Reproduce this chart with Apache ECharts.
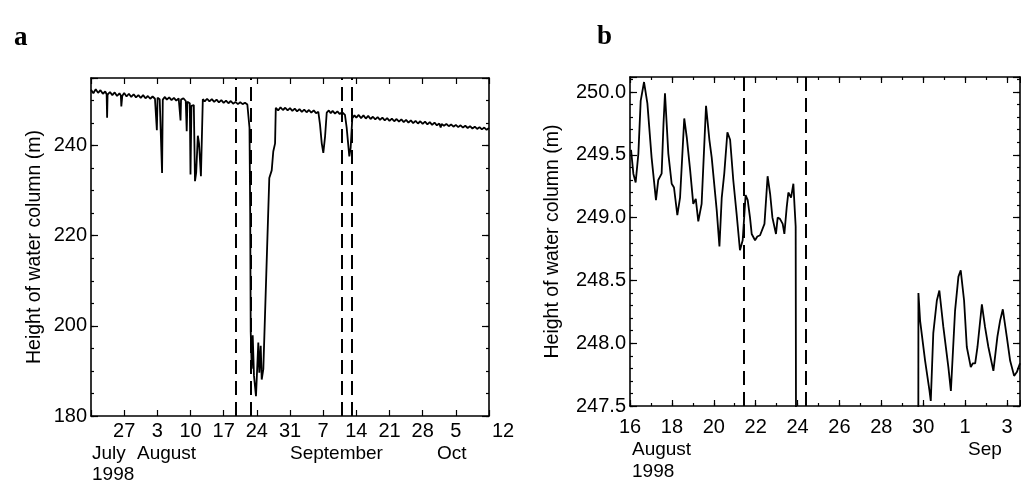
<!DOCTYPE html>
<html><head><meta charset="utf-8">
<script src="https://cdn.jsdelivr.net/npm/echarts@6/dist/echarts.min.js"></script>
<style>html,body{margin:0;padding:0;background:#fff}#c{width:1021px;height:484px}</style>
</head><body><div id="c"></div>
<script>
// ---------- Panel a: x = day counted from 1 July 1998 (1 Aug = 32, 1 Sep = 63, 1 Oct = 93) ----------
const A_SERIES = [
[20.0,252.4],[20.5,251.6],[21.0,252.5],[21.5,251.7],[22.0,252.3],[22.5,251.5],[23.0,252.0],[23.3,251.4],[23.4,246.2],[23.5,251.3],
[24.0,251.9],[24.5,251.2],[25.0,251.8],[25.5,251.0],[26.0,251.6],[26.3,251.1],[26.4,248.7],[26.6,251.0],[27.0,251.7],[27.5,250.9],
[28.0,251.5],[28.5,250.8],[29.0,251.4],[29.5,250.7],[30.0,251.2],[30.5,250.6],[31.0,251.2],[31.5,250.5],[32.0,251.0],[32.5,250.4],
[33.0,250.9],[33.5,250.4],[33.8,250.7],[33.9,243.4],[34.05,250.6],[34.5,250.3],[34.85,250.5],[35.0,233.9],[35.15,250.2],[35.6,250.8],
[36.0,250.2],[36.5,250.7],[37.0,250.1],[37.5,250.6],[38.0,250.0],[38.5,250.5],[38.8,250.1],[38.9,245.6],[39.0,250.2],[39.5,250.5],
[40.0,249.9],[40.2,243.2],[40.35,249.7],[40.85,249.4],[41.0,233.6],[41.2,248.8],[41.7,249.0],[41.95,232.1],[42.2,234.0],[42.55,242.2],
[42.8,240.5],[43.2,233.2],[43.6,250.3],[44.0,249.8],[44.5,250.4],[45.0,249.8],[45.5,250.3],[46.0,249.7],[46.5,250.2],[47.0,249.6],
[47.5,250.1],[48.0,249.5],[48.5,250.0],[49.0,249.4],[49.5,249.9],[50.0,249.3],[50.5,249.7],[51.0,249.2],[51.5,249.6],[52.0,249.2],
[52.5,249.5],[53.0,249.1],[53.2,249.3],[53.45,244.0],[53.6,225.0],[53.71,198.7],[53.92,190.5],[54.13,197.9],[54.4,188.9],[54.82,184.4],
[55.31,196.3],[55.52,189.6],[55.82,195.6],[56.03,188.1],[56.37,190.4],[57.0,211.6],[57.63,232.8],[58.14,234.5],[58.47,238.7],[58.85,240.5],
[59.0,248.4],[59.5,247.8],[60.0,248.5],[60.5,247.9],[61.0,248.4],[61.5,247.8],[62.0,248.3],[62.5,247.7],[63.0,248.2],[63.5,247.6],
[64.0,248.1],[64.5,247.5],[65.0,248.0],[65.5,247.4],[66.0,247.9],[66.5,247.3],[67.0,247.8],[67.5,247.2],[67.98,247.5],[68.33,244.7],
[68.7,240.5],[69.03,238.4],[69.4,242.0],[69.75,247.3],[70.2,247.8],[70.6,247.2],[71.0,247.7],[71.5,247.1],[72.0,247.6],[72.5,247.0],
[73.0,247.4],[73.6,246.8],[73.96,244.0],[74.52,237.6],[74.8,239.5],[75.15,246.1],[75.6,246.7],[76.0,246.2],[76.5,246.8],[77.0,246.1],
[77.5,246.7],[78.0,246.0],[78.5,246.6],[79.0,245.9],[79.5,246.4],[80.0,245.8],[80.5,246.3],[81.0,245.7],[81.5,246.2],[82.0,245.6],
[82.5,246.1],[83.0,245.5],[83.5,246.0],[84.0,245.4],[84.5,245.9],[85.0,245.3],[85.5,245.8],[86.0,245.2],[86.5,245.7],[87.0,245.1],
[87.5,245.6],[88.0,245.0],[88.5,245.5],[89.0,244.9],[89.5,245.4],[90.0,244.8],[90.5,245.3],[91.0,244.7],[91.5,245.2],[92.0,244.6],
[92.5,245.1],[93.0,244.5],[93.5,244.9],[93.8,244.0],[94.0,244.8],[94.5,244.4],[95.0,244.8],[95.5,244.3],[96.0,244.7],[96.5,244.2],
[97.0,244.6],[97.5,244.1],[98.0,244.5],[98.5,244.0],[99.0,244.4],[99.5,243.9],[100.0,244.3],[100.5,243.8],[101.0,244.2],[101.5,243.7],
[102.0,244.1],[102.5,243.6],[103.0,244.0],[103.5,243.5],[104.0,243.9]
];
const A_DASHED = [50.6, 53.66, 72.9, 75.0];
const A_DAY_MIN = 20, A_DAY_MAX = 104, A_TICK_STEP = 7;
const A_XTICK_LABELS = ['', '27', '3', '10', '17', '24', '31', '7', '14', '21', '28', '5', '12'];
const A_Y_MIN = 180, A_Y_MAX = 255, A_Y_STEP = 20, A_Y_MINOR = 5;
const A_MONTHS = ['July', 'August', 'September', 'Oct'];

// ---------- Panel b: x = day of August 1998 (1 Sep = 32) ----------
const B_SEG1 = [
[16.05,249.54],[16.16,249.35],[16.27,249.28],[16.4,249.51],[16.51,249.93],[16.67,250.08],[16.83,249.91],[17.03,249.48],[17.24,249.14],[17.35,249.30],
[17.51,249.35],[17.6,249.75],[17.67,249.99],[17.83,249.51],[17.99,249.27],[18.1,249.24],[18.26,249.02],[18.39,249.16],[18.59,249.79],[18.71,249.64],
[18.87,249.38],[19.02,249.11],[19.14,249.15],[19.26,248.97],[19.42,249.11],[19.63,249.89],[19.79,249.62],[19.9,249.48],[20.14,249.06],[20.27,248.77],
[20.38,249.16],[20.5,249.35],[20.65,249.68],[20.78,249.62],[20.93,249.30],[21.09,249.03],[21.25,248.74],[21.38,248.82],[21.52,249.18],[21.62,249.14],
[21.73,249.0],[21.81,248.87],[21.97,248.82],[22.08,248.85],[22.21,248.86],[22.42,248.95],[22.57,249.33],[22.69,249.19],[22.8,249.0],[22.97,248.87],
[23.05,249.0],[23.16,248.99],[23.29,248.95],[23.37,248.87],[23.48,249.08],[23.56,249.2],[23.69,249.16],[23.8,249.27],[23.85,249.11],[23.91,248.93],
[23.94,246.0]
];
const B_SEG2 = [
[29.76,246.0],[29.77,248.40],[29.85,248.18],[30.09,247.86],[30.3,247.62],[30.36,247.54],[30.48,248.08],[30.65,248.34],[30.77,248.42],[30.96,248.13],
[31.2,247.81],[31.32,247.62],[31.52,248.26],[31.68,248.53],[31.79,248.58],[31.95,248.34],[32.08,247.97],[32.27,247.81],[32.37,247.84],[32.48,247.84],
[32.59,247.97],[32.8,248.31],[32.95,248.13],[33.11,247.97],[33.35,247.78],[33.54,248.05],[33.67,248.18],[33.8,248.27],[33.99,248.05],[34.15,247.86],
[34.34,247.74],[34.47,247.77],[34.62,247.84]
];
const B_DASHED = [21.41, 24.39];
const B_DAY_MIN = 16, B_DAY_MAX = 34.62, B_TICK_STEP = 2;
const B_XTICK_LABELS = ['16', '18', '20', '22', '24', '26', '28', '30', '1', '3'];
const B_Y_MIN = 247.5, B_Y_MAX = 250.12, B_Y_STEP = 0.5, B_Y_MINOR = 0.1;
const B_MONTHS = ['August', 'Sep'];
const YEAR = '1998';
const Y_TITLE = 'Height of water column (m)';

// axis values for panel a are counted from 6 July so weekly ticks fall on multiples of 7
const A_SHIFT = 6;

const FONT = '"Liberation Sans", Arial, Helvetica, sans-serif';
const INK = '#000';
const TICK_FS = 20;
const LBL = {fontSize: TICK_FS, fontFamily: FONT, color: INK};

function ax(base, extra) { return Object.assign({type: 'value', splitLine: {show: false}, animation: false}, base, extra); }
function tickCfg(len) { return {show: true, inside: true, length: len, lineStyle: {color: INK, width: 1.2}}; }
const LINE = {show: true, lineStyle: {color: INK, width: 1.6}};
const NOLINE = {show: false};
const NOLBL = {show: false};

const aXmin = A_DAY_MIN - A_SHIFT, aXmax = A_DAY_MAX - A_SHIFT;

const xAxis = [
  // panel a
  ax({gridIndex: 0, position: 'bottom', min: aXmin, max: aXmax, interval: A_TICK_STEP}, {
    axisLine: LINE, axisTick: tickCfg(6),
    axisLabel: Object.assign({}, LBL, {margin: 5, showMinLabel: true, showMaxLabel: true,
      formatter: v => {
        const i = Math.round((v - aXmin) / A_TICK_STEP);
        if (Math.abs(v - aXmin - i * A_TICK_STEP) > 1e-6) return '';
        const t = A_XTICK_LABELS[i] || '';
        return i === A_XTICK_LABELS.length - 1 ? '{last|' + t + '}' : t;
      },
      rich: {last: {fontSize: TICK_FS, fontFamily: FONT, color: INK, padding: [0, 0, 0, 28]}}
    })
  }),
  ax({gridIndex: 0, position: 'top', min: aXmin, max: aXmax, interval: A_TICK_STEP}, {axisLine: LINE, axisTick: tickCfg(6), axisLabel: NOLBL}),
  // panel b
  ax({gridIndex: 1, position: 'bottom', min: B_DAY_MIN, max: B_DAY_MAX, interval: B_TICK_STEP}, {
    axisLine: LINE, axisTick: tickCfg(6),
    axisLabel: Object.assign({}, LBL, {margin: 11, showMaxLabel: true,
      formatter: v => {
        const i = Math.round((v - B_DAY_MIN) / B_TICK_STEP);
        if (Math.abs(v - B_DAY_MIN - i * B_TICK_STEP) > 1e-6) return '';
        return B_XTICK_LABELS[i] || '';
      }})
  }),
  ax({gridIndex: 1, position: 'bottom', min: B_DAY_MIN, max: B_DAY_MAX, interval: 1}, {axisLine: NOLINE, axisTick: tickCfg(3), axisLabel: NOLBL}),
  ax({gridIndex: 1, position: 'top', min: B_DAY_MIN, max: B_DAY_MAX, interval: B_TICK_STEP}, {axisLine: LINE, axisTick: tickCfg(6), axisLabel: NOLBL}),
  ax({gridIndex: 1, position: 'top', min: B_DAY_MIN, max: B_DAY_MAX, interval: 1}, {axisLine: NOLINE, axisTick: tickCfg(3), axisLabel: NOLBL})
];

const yAxis = [
  // panel a
  ax({gridIndex: 0, position: 'left', min: A_Y_MIN, max: A_Y_MAX, interval: A_Y_STEP}, {
    axisLine: LINE, axisTick: tickCfg(7),
    axisLabel: Object.assign({}, LBL, {margin: 4, formatter: v => (Math.abs(v % A_Y_STEP) < 1e-6 ? String(v) : '')}),
    name: Y_TITLE, nameLocation: 'middle', nameGap: 46, nameRotate: 90,
    nameTextStyle: {fontSize: 19.5, fontFamily: FONT, color: INK}
  }),
  ax({gridIndex: 0, position: 'left', min: A_Y_MIN, max: A_Y_MAX, interval: A_Y_MINOR}, {axisLine: NOLINE, axisTick: tickCfg(3), axisLabel: NOLBL}),
  ax({gridIndex: 0, position: 'right', min: A_Y_MIN, max: A_Y_MAX, interval: A_Y_STEP}, {axisLine: LINE, axisTick: tickCfg(7), axisLabel: NOLBL}),
  ax({gridIndex: 0, position: 'right', min: A_Y_MIN, max: A_Y_MAX, interval: A_Y_MINOR}, {axisLine: NOLINE, axisTick: tickCfg(3), axisLabel: NOLBL}),
  // panel b
  ax({gridIndex: 1, position: 'left', min: B_Y_MIN, max: B_Y_MAX, interval: B_Y_STEP}, {
    axisLine: LINE, axisTick: tickCfg(7),
    axisLabel: Object.assign({}, LBL, {margin: 4, formatter: v => {
      const k = (v - B_Y_MIN) / B_Y_STEP;
      return Math.abs(k - Math.round(k)) < 1e-6 ? v.toFixed(1) : '';
    }}),
    name: Y_TITLE, nameLocation: 'middle', nameGap: 67, nameRotate: 90,
    nameTextStyle: {fontSize: 19.5, fontFamily: FONT, color: INK, padding: [0, 0, 0, 0]}
  }),
  ax({gridIndex: 1, position: 'left', min: B_Y_MIN, max: B_Y_MAX, interval: B_Y_MINOR}, {axisLine: NOLINE, axisTick: tickCfg(3), axisLabel: NOLBL}),
  ax({gridIndex: 1, position: 'right', min: B_Y_MIN, max: B_Y_MAX, interval: B_Y_STEP}, {axisLine: LINE, axisTick: tickCfg(7), axisLabel: NOLBL}),
  ax({gridIndex: 1, position: 'right', min: B_Y_MIN, max: B_Y_MAX, interval: B_Y_MINOR}, {axisLine: NOLINE, axisTick: tickCfg(3), axisLabel: NOLBL})
];

function dashed(xs, shift) {
  return {
    silent: true, symbol: ['none', 'none'], label: {show: false}, animation: false,
    lineStyle: {type: [14, 7], width: 2, color: INK},
    emphasis: {disabled: true},
    data: xs.map(d => ({xAxis: d - shift}))
  };
}

const lineStyle = {color: INK, width: 1.8};
const series = [
  {type: 'line', xAxisIndex: 0, yAxisIndex: 0, data: A_SERIES.map(p => [p[0] - A_SHIFT, p[1]]),
   showSymbol: false, symbol: 'none', lineStyle: lineStyle, clip: true, animation: false, silent: true,
   markLine: dashed(A_DASHED, A_SHIFT)},
  {type: 'line', xAxisIndex: 2, yAxisIndex: 4, data: B_SEG1, showSymbol: false, symbol: 'none',
   lineStyle: lineStyle, clip: true, animation: false, silent: true, markLine: dashed(B_DASHED, 0)},
  {type: 'line', xAxisIndex: 2, yAxisIndex: 4, data: B_SEG2, showSymbol: false, symbol: 'none',
   lineStyle: lineStyle, clip: true, animation: false, silent: true}
];

const TXT_FONT = '19px ' + FONT;
const LETTER_FONT = 'bold 27px "Liberation Serif", "DejaVu Serif", serif';
function txt(s, x, y, font) {
  return {type: 'text', x: x, y: y, silent: true, style: {text: s, fill: INK, font: font || TXT_FONT, textVerticalAlign: 'middle'}};
}
const graphic = [
  txt('a', 14, 38, LETTER_FONT),
  txt('b', 597, 37, LETTER_FONT),
  txt(A_MONTHS[0], 92, 454),
  txt(A_MONTHS[1], 137, 454),
  txt(A_MONTHS[2], 290, 454),
  txt(A_MONTHS[3], 437, 454),
  txt(YEAR, 92, 475),
  txt(B_MONTHS[0], 632, 450),
  txt(B_MONTHS[1], 968, 450),
  txt(YEAR, 632, 472)
];

const chart = echarts.init(document.getElementById('c'), null, {renderer: 'canvas'});
chart.setOption({
  animation: false,
  backgroundColor: '#fff',
  grid: [
    {left: 91, top: 78, width: 398, height: 338, containLabel: false, outerBoundsMode: 'none'},
    {left: 630, top: 77, width: 390, height: 329, containLabel: false, outerBoundsMode: 'none'}
  ],
  xAxis: xAxis,
  yAxis: yAxis,
  series: series,
  graphic: graphic
});
</script>
</body></html>
